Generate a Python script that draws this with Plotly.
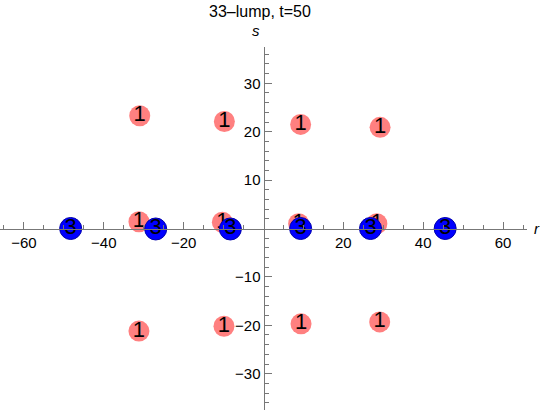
import plotly.graph_objects as go

# lump positions
r1 = [-31.0, -9.8, 9.3, 29.2, -31.2, -10.3, 8.8, 28.4, -31.2, -9.9, 9.4, 29.1]
s1 = [23.3, 22.1, 21.5, 20.9, 1.4, 1.3, 1.0, 1.0, -21.2, -20.2, -19.7, -19.3]
r3 = [-48.3, -27.0, -8.3, 9.3, 26.8, 45.5]
s3 = [0.0, -0.1, -0.1, 0.0, 0.0, 0.0]

x_ticks = [-60, -40, -20, 20, 40, 60]
y_ticks = [-30, -20, -10, 10, 20, 30]

font = "Liberation Sans, Arial, sans-serif"

fig = go.Figure()
fig.add_trace(go.Scatter(
    x=r1, y=s1, mode="markers+text", text=["1"] * len(r1),
    textposition="middle center",
    textfont=dict(size=22, color="black", family=font),
    marker=dict(size=21, color="#ff8080", line=dict(width=0)),
))
fig.add_trace(go.Scatter(
    x=r3, y=s3, mode="markers+text", text=["3"] * len(r3),
    textposition="middle center",
    textfont=dict(size=22, color="black", family=font),
    marker=dict(size=22, color="#0000ff", line=dict(width=1, color="#0000aa")),
))

axis_common = dict(
    showgrid=False, zeroline=False, showline=True, linecolor="#777777",
    linewidth=1, ticks="inside", tickcolor="#777777", ticklen=7,
    tickfont=dict(size=15, color="black", family=font), anchor="free",
    position=0.5, automargin=False,
)

fig.update_layout(
    width=540, height=412, showlegend=False,
    plot_bgcolor="white", paper_bgcolor="white",
    margin=dict(l=0, r=13, t=47, b=2, autoexpand=False),
    xaxis=dict(range=[-66, 66], tickvals=x_ticks, side="bottom",
               minor=dict(ticks="inside", ticklen=4, tickcolor="#777777",
                          tickvals=[v for v in range(-65, 66, 5) if v % 20 != 0]),
               **axis_common),
    yaxis=dict(range=[-37.5, 37.5], tickvals=y_ticks, side="left",
               minor=dict(ticks="inside", ticklen=4, tickcolor="#777777",
                          tickvals=[v for v in range(-36, 37, 2) if v % 10 != 0]),
               **axis_common),
)

# title and axis labels
fig.add_annotation(text="33\u2013lump, t=50", x=0.4935, y=1, yshift=36,
                   xref="paper", yref="paper", yanchor="middle", showarrow=False,
                   font=dict(size=16, color="black", family=font))
fig.add_annotation(text="<i>s</i>", x=0, y=37.5, xref="x", yref="y", xshift=-8,
                   yshift=17, yanchor="middle", showarrow=False,
                   font=dict(size=15, color="black", family=font))
fig.add_annotation(text="<i>r</i>", x=66, y=0, xref="x", yref="y", xshift=10,
                   yanchor="middle", showarrow=False,
                   font=dict(size=15, color="black", family=font))

# the page's default body margin would shift the figure by 8px
fig.write_html("out.html", config={"displayModeBar": False},
               post_script="document.body.style.margin='0px';")
